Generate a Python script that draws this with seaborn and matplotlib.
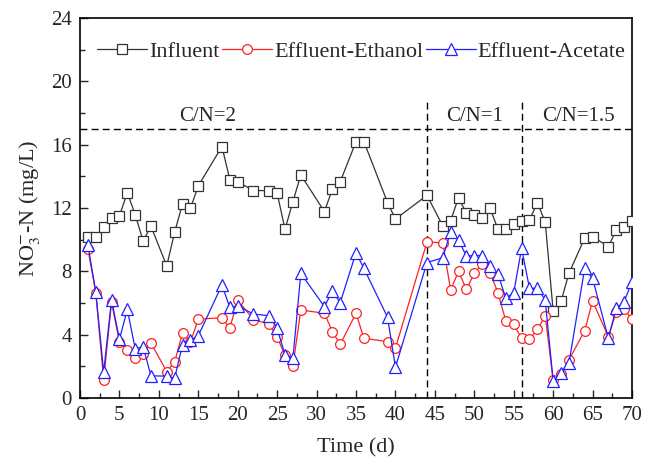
import numpy as np
import pandas as pd
import matplotlib
matplotlib.use("Agg")
import matplotlib.pyplot as plt
from matplotlib.ticker import MultipleLocator
import seaborn as sns

days = [1, 2, 3, 4, 5, 6, 7, 8, 9, 11, 12, 13, 14, 15, 18, 19, 20, 22,
        24, 25, 26, 27, 28, 31, 32, 33, 35, 36, 39, 40, 44,
        46, 47, 48, 49, 50, 51, 52, 53, 54, 55, 56, 57, 58, 59, 60, 61, 62,
        64, 65, 67, 68, 69, 70]

influent = [10.15, 10.2, 10.78, 11.4, 11.5, 12.97, 11.58, 9.92, 10.85,
            8.34, 10.47, 12.25, 11.98, 13.4, 15.88, 13.8, 13.66, 13.1,
            13.1, 12.93, 10.66, 12.4, 14.09, 11.77, 13.2, 13.66, 16.19, 16.2,
            12.34, 11.3, 12.8,
            10.87, 11.2, 12.65, 11.67, 11.54, 11.4, 11.98, 10.67, 10.67, 10.97,
            11.2, 11.24, 12.34, 11.1, 5.5, 6.1, 7.87,
            10.1, 10.2, 9.56, 10.6, 10.8, 11.2]

ethanol = [9.42, 6.65, 1.14, 6.05, 3.55, 3.05, 2.55, 2.8, 3.47,
           1.67, 2.28, 4.1, 3.52, 4.98, 5.07, 4.42, 6.18, 4.95,
           4.66, 3.85, 2.7, 2.02, 5.56, 5.35, 4.19, 3.39, 5.35, 3.77,
           3.56, 3.14, 9.85,
           9.8, 6.82, 8.0, 6.86, 7.87, 8.46, 7.92, 6.65, 4.86, 4.65,
           3.77, 3.7, 4.34, 5.18, 1.14, 1.52, 2.4,
           4.25, 6.13, 3.87, 5.45, 5.6, 4.97]

acetate = [9.66, 6.7, 1.65, 6.2, 3.7, 5.6, 3.1, 3.25, 1.4,
           1.38, 1.25, 3.37, 3.66, 3.93, 7.14, 5.72, 5.82, 5.3,
           5.2, 4.4, 2.72, 2.5, 7.87, 5.77, 6.76, 6.02, 9.18, 8.19,
           5.1, 1.94, 8.55,
           8.86, 10.5, 9.96, 8.97, 9.0, 9.0, 8.34, 7.83, 6.3, 6.65,
           9.45, 6.93, 6.93, 6.19, 1.07, 1.56, 2.19,
           8.19, 7.56, 3.77, 5.67, 6.08, 7.35]

series_names = ["Influent", "Effluent-Ethanol", "Effluent-Acetate"]
phase_bounds = [44, 56]
phase_labels = ["C/N=2", "C/N=1", "C/N=1.5"]
phase_label_x = [16.2, 50.0, 63.2]
cn_line_y = 17

sns.set_style("ticks")
plt.rcParams["font.family"] = ["Liberation Serif", "DejaVu Serif"]
plt.rcParams["mathtext.fontset"] = "stix"

df = pd.DataFrame({
    "Time": days * 3,
    "Value": influent + ethanol + acetate,
    "Series": [series_names[0]] * len(days) + [series_names[1]] * len(days) + [series_names[2]] * len(days),
})

fig = plt.figure(figsize=(6.53, 4.63), dpi=100)
ax = fig.add_axes([80 / 653, 1 - 398 / 463, 552 / 653, 380 / 463])

styles = {
    series_names[0]: ("#333333", "s", 6.5),
    series_names[1]: ("#ff2020", "o", 7),
    series_names[2]: ("#2020ff", "^", 8),
}
for name in series_names:
    color, marker, ms = styles[name]
    sub = df[df["Series"] == name]
    sns.lineplot(data=sub, x="Time", y="Value", ax=ax, color=color, marker=marker,
                 markersize=ms, markerfacecolor="white",
                 markeredgecolor=color, markeredgewidth=0.9, linewidth=0.9,
                 label=name, zorder=3)

ax.axhline(cn_line_y, color="black", linestyle=(0, (5, 3)), linewidth=1.0, zorder=2)
for xb in phase_bounds:
    ax.plot([xb, xb], [0, 18.8], color="black", linestyle=(0, (5, 3)), linewidth=1.0, zorder=2)
for lx, lab in zip(phase_label_x, phase_labels):
    ax.text(lx, 17.75, lab, ha="center", va="center", fontsize=15)

ax.set_xlim(0, 70)
ax.set_ylim(0, 24)
ax.xaxis.set_major_locator(MultipleLocator(5))
ax.xaxis.set_minor_locator(MultipleLocator(2.5))
ax.yaxis.set_major_locator(MultipleLocator(4))
ax.yaxis.set_minor_locator(MultipleLocator(2))
ax.tick_params(which="both", direction="in", top=False, right=False, labelsize=15)
ax.tick_params(which="major", length=6, width=1, pad=6)
ax.tick_params(which="minor", length=3.5, width=1)
for sp in ax.spines.values():
    sp.set_visible(True)
    sp.set_linewidth(1.2)
    sp.set_color("black")

ax.set_xlabel("Time (d)", fontsize=16, labelpad=9)
ax.set_ylabel(r"NO$_3^{-}$-N (mg/L)", fontsize=16, labelpad=6)

ax.legend(loc="center left", bbox_to_anchor=(0.031, 0.912), ncol=3, frameon=False,
          fontsize=16, handlelength=2.25, handletextpad=0.1, columnspacing=0.1,
          borderaxespad=0.0, borderpad=0.0)

fig.savefig("out.png", dpi=100)
